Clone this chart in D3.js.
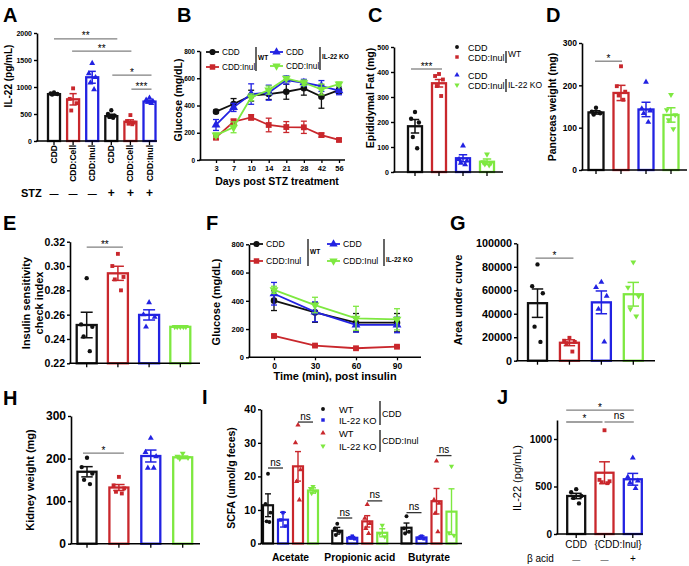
<!DOCTYPE html>
<html>
<head>
<meta charset="utf-8">
<script src="https://cdnjs.cloudflare.com/ajax/libs/d3/7.8.5/d3.min.js"></script>
<style>
  body { margin: 0; background: #fff; }
</style>
</head>
<body>
<script>
// colours of the four groups
const BLACK = "#111111", RED = "#c9272c", BLUE = "#2222e2", GREEN = "#7ee840", GRAY = "#808080";
const FONT = "'Liberation Sans', Arial, Helvetica, sans-serif";

// ---------- A : IL-22 ----------
const aCats = ["CDD", "CDD:Cell", "CDD:Inul", "CDD", "CDD:Cell", "CDD:Inul"];
const aStz = ["\u2014", "\u2014", "\u2014", "+", "+", "+"];
const aMeans = [868, 772, 1180, 460, 357, 730];
const aSems = [18, 105, 110, 35, 35, 25];
const aPoints = [[900, 880, 870, 860], [975, 780, 700, 565], [1440, 1250, 1180, 1080, 955], [570, 500, 470, 450, 430], [480, 370, 340, 320, 310], [800, 760, 740, 720, 700]];

// ---------- B : glucose after STZ ----------
const bDays = ["3", "7", "10", "14", "21", "28", "42", "56"];
const bWtCdd = [355, 411, 472, 484, 501, 526, 465, 513];
const bWtCddErr = [10, 40, 40, 40, 55, 50, 85, 25];
const bWtInul = [166, 281, 313, 257, 242, 240, 183, 147];
const bWtInulErr = [18, 20, 20, 50, 40, 45, 15, 10];
const bKoCdd = [257, 386, 484, 494, 587, 567, 543, 509];
const bKoCddErr = [40, 30, 75, 55, 30, 25, 40, 30];
const bKoInul = [183, 240, 460, 513, 599, 567, 518, 557];
const bKoInulErr = [15, 40, 25, 30, 10, 20, 40, 15];

// ---------- C : epididymal fat ----------
const cMeans = [183, 355, 55, 41];
const cSems = [27, 15, 14, 11];
const cPoints = [[240, 213, 198, 140, 95], [392, 384, 370, 344, 304], [105, 51, 45, 36, 30], [71, 40, 36, 32, 28]];

// ---------- D : pancreas weight ----------
const dMeans = [136, 182, 143, 130];
const dSems = [4, 18, 17, 17];
const dPoints = [[147, 138, 134, 131], [245, 198, 185, 176, 166], [208, 145, 140, 134, 113], [178, 142, 130, 118, 97]];

// ---------- E : insulin sensitivity ----------
const eMeans = [0.2515, 0.294, 0.2598, 0.2500];
const eSems = [0.0105, 0.0058, 0.0042, 0.0006];
const ePoints = [[0.290, 0.252, 0.250, 0.242, 0.230], [0.310, 0.300, 0.291, 0.289, 0.280], [0.270, 0.260, 0.258, 0.250], [0.250, 0.250, 0.250, 0.250, 0.250]];

// ---------- F : insulin tolerance ----------
const fTimes = [0, 30, 60, 90];
const fWtCdd = [401, 318, 245, 245];
const fWtCddErr = [70, 70, 65, 65];
const fWtInul = [151, 83, 64, 75];
const fWtInulErr = [8, 6, 5, 6];
const fKoCdd = [450, 322, 229, 229];
const fKoCddErr = [80, 70, 50, 55];
const fKoInul = [478, 370, 276, 269];
const fKoInulErr = [25, 55, 85, 75];

// ---------- G : area under curve ----------
const gMeans = [49000, 15300, 49700, 56600];
const gSems = [12100, 2500, 9700, 10100];
const gPoints = [[82000, 63500, 57500, 29000, 16000], [19500, 17000, 16000, 15000, 7800], [67000, 62500, 55000, 44000, 16000], [84000, 62500, 55000, 44000, 38000]];

// ---------- H : kidney weight ----------
const hMeans = [169, 132, 206, 203];
const hSems = [12, 7, 14, 3];
const hPoints = [[202, 180, 165, 150, 140], [157, 137, 130, 122, 118], [248, 215, 205, 178, 178], [212, 205, 202, 200]];

// ---------- I : SCFA ----------
const iGroups = ["Acetate", "Propionic acid", "Butyrate"];
const iAcetMeans = [11.4, 7.1, 23.0, 15.8];
const iAcetSems = [3.4, 2.2, 4.4, 0.8];
const iAcetPoints = [[20.8, 11.8, 9.2, 6.6, 6.4], [9.2, 7.0, 5.2], [35.3, 30.0, 22.0, 18.5, 13.0], [17.0, 16.4, 15.6, 15.0]];
const iPropMeans = [3.8, 1.7, 6.6, 3.2];
const iPropSems = [1.0, 0.4, 1.7, 1.2];
const iPropPoints = [[5.9, 4.5, 3.5, 2.5], [2.2, 1.7, 1.4], [11.6, 7.5, 6.0, 4.5, 3.0], [5.4, 3.0, 2.0]];
const iButMeans = [4.7, 1.8, 12.6, 9.5];
const iButSems = [1.4, 0.5, 3.8, 6.8];
const iButPoints = [[8.1, 4.5, 3.5, 3.0], [2.2, 1.6, 1.4], [24.6, 13.0, 12.0, 9.0, 3.5], [23.0, 3.2, 2.4]];

// ---------- J : IL-22 with beta acid ----------
const jCats = ["CDD", "CDD:Inul", "CDD:Inul"];
const jBeta = ["\u2014", "\u2014", "+"];
const jMeans = [400, 645, 576];
const jSems = [28, 115, 62];
const jPoints = [[472, 440, 400, 380, 322], [1092, 570, 555, 545, 535], [802, 600, 560, 540, 481]];

const JIT = [0, -1, 1, -0.55, 0.55];

const svg = d3.select("body").append("svg")
  .attr("width", 689).attr("height", 566)
  .attr("font-family", FONT);

function marker(g, shape, x, y, color, size) {
  const type = shape === "circle" ? d3.symbolCircle : shape === "square" ? d3.symbolSquare : d3.symbolTriangle;
  g.append("path")
    .attr("d", d3.symbol().type(type).size(size)())
    .attr("transform", `translate(${x},${y})` + (shape === "down" ? " rotate(180)" : ""))
    .attr("fill", color);
}

function letter(t, x, y) {
  svg.append("text").attr("x", x).attr("y", y)
    .attr("font-size", 20).attr("font-weight", "bold").text(t);
}

function yTitle(lines, x, y, size, bold) {
  const t = svg.append("text")
    .attr("transform", `translate(${x},${y}) rotate(-90)`)
    .attr("text-anchor", "middle").attr("font-size", size)
    .attr("font-weight", bold ? "bold" : "normal");
  lines.forEach((l, i) => t.append("tspan").attr("x", 0).attr("dy", i ? size * 1.15 : 0).text(l));
}

function yAxis(g, x, y, ticks, fmt, fs) {
  const ax = g.append("g").attr("transform", `translate(${x},0)`)
    .call(d3.axisLeft(y).tickValues(ticks).tickFormat(fmt).tickSize(3).tickSizeOuter(0).tickPadding(2));
  ax.attr("font-family", FONT);
  ax.select(".domain").attr("stroke-width", 1.6);
  ax.selectAll(".tick line").attr("stroke-width", 1.4);
  ax.selectAll("text").attr("font-size", fs).attr("font-weight", "bold");
  return ax;
}

function xBase(g, x0, x1, yb, ticks) {
  g.append("line").attr("x1", x0 - 0.8).attr("x2", x1).attr("y1", yb).attr("y2", yb)
    .attr("stroke", "#000").attr("stroke-width", 1.6);
  ticks.forEach(tx => g.append("line").attr("x1", tx).attr("x2", tx).attr("y1", yb).attr("y2", yb + 4)
    .attr("stroke", "#000").attr("stroke-width", 1.3));
}

function errBar(g, cx, yLo, yHi, capW, color, sw) {
  g.append("line").attr("x1", cx).attr("x2", cx).attr("y1", yLo).attr("y2", yHi)
    .attr("stroke", color).attr("stroke-width", sw);
  [yLo, yHi].forEach(yy => g.append("line")
    .attr("x1", cx - capW / 2).attr("x2", cx + capW / 2).attr("y1", yy).attr("y2", yy)
    .attr("stroke", color).attr("stroke-width", sw));
}

function sigLine(g, xa, xb, yy, label, color) {
  g.append("line").attr("x1", xa).attr("x2", xb).attr("y1", yy).attr("y2", yy)
    .attr("stroke", color || GRAY).attr("stroke-width", 1.3);
  g.append("text").attr("x", (xa + xb) / 2).attr("y", label === "ns" ? yy - 2.5 : yy + 0.5)
    .attr("text-anchor", "middle").attr("font-size", 10).text(label);
}

function barPanel(o) {
  const n = o.means.length;
  const idx = d3.range(n);
  const g = svg.append("g");
  const y = d3.scaleLinear().domain(o.domain).range([o.yBot, o.yTop]);
  const x = d3.scalePoint().domain(idx).range(o.centers);
  g.selectAll("rect.bar").data(idx).join("rect").attr("class", "bar")
    .attr("x", i => x(i) - o.barW / 2).attr("y", i => y(o.means[i]))
    .attr("width", o.barW).attr("height", i => o.yBot - y(o.means[i]))
    .attr("fill", "#fff").attr("stroke", i => o.colors[i]).attr("stroke-width", 2.3);
  idx.forEach(i => o.points[i].forEach((v, k) =>
    marker(g, o.shapes[i], x(i) + JIT[k % JIT.length] * o.barW * 0.28, y(v), o.colors[i], o.ms || 15)));
  idx.forEach(i => errBar(g, x(i), y(o.means[i] - o.sems[i]), y(o.means[i] + o.sems[i]),
    o.barW * 0.6, o.colors[i], 1.5));
  yAxis(g, o.x0, y, o.ticks, o.fmt, o.fs);
  xBase(g, o.x0, o.x1, o.yBot, idx.map(i => x(i)));
  (o.sig || []).forEach(s => sigLine(g, x(s[0]) + (s[4] ?? -2), x(s[1]) + (s[5] ?? 3), y(s[2]), s[3]));
  return { g, x, y };
}

function linePanel(o) {
  const g = svg.append("g");
  const y = d3.scaleLinear().domain(o.domain).range([o.yBot, o.yTop]);
  const x = o.x;
  yAxis(g, o.x0, y, o.ticks, d3.format("d"), o.fs);
  const xa = g.append("g").attr("transform", `translate(0,${o.yBot})`)
    .call(d3.axisBottom(x).tickValues(o.xVals).tickSize(3).tickSizeOuter(0).tickPadding(3));
  xa.attr("font-family", FONT);
  xa.select(".domain").remove();
  xa.selectAll(".tick line").attr("stroke-width", 1.3);
  xa.selectAll("text").attr("font-size", o.xfs).attr("font-weight", "bold");
  g.append("line").attr("x1", o.x0 - 0.8).attr("x2", o.x1).attr("y1", o.yBot).attr("y2", o.yBot)
    .attr("stroke", "#000").attr("stroke-width", 1.6);
  o.series.forEach(s => {
    s.vals.forEach((v, k) => errBar(g, x(o.xVals[k]), y(v - s.errs[k]), y(v + s.errs[k]), 6, s.color, 1.3));
    g.append("path").datum(s.vals)
      .attr("d", d3.line().x((d, k) => x(o.xVals[k])).y(d => y(d)))
      .attr("fill", "none").attr("stroke", s.color).attr("stroke-width", 1.8);
    s.vals.forEach((v, k) => marker(g, s.shape, x(o.xVals[k]), y(v), s.color, 34));
  });
}

function legendLine(x, y, color, shape, label, fs) {
  svg.append("line").attr("x1", x).attr("x2", x + 13).attr("y1", y).attr("y2", y)
    .attr("stroke", color).attr("stroke-width", 1.8);
  marker(svg, shape, x + 6.5, y, color, 30);
  svg.append("text").attr("x", x + 16).attr("y", y + 3).attr("font-size", fs).text(label);
}

function legendDot(x, y, color, shape, label, tx, fs) {
  marker(svg, shape, x, y, color, 12);
  svg.append("text").attr("x", tx).attr("y", y + 3.5).attr("font-size", fs).text(label);
}

function bracket(x, y1, y2, label, ty, bold, size) {
  svg.append("line").attr("x1", x).attr("x2", x).attr("y1", y1).attr("y2", y2)
    .attr("stroke", "#000").attr("stroke-width", 1.2);
  svg.append("text").attr("x", x + 2).attr("y", ty).attr("font-size", size)
    .attr("font-weight", bold ? "bold" : "normal").text(label);
}

const four = [BLACK, RED, BLUE, GREEN];
const fourShapes = ["circle", "square", "triangle", "down"];

// ===== A =====
letter("A", 3, 22);
const A = barPanel({
  x0: 37, x1: 157, yTop: 33, yBot: 141, domain: [0, 2000], ticks: [0, 500, 1000, 1500, 2000],
  fmt: d3.format("d"), fs: 7, centers: [54, 149.5], barW: 12,
  means: aMeans, sems: aSems, points: aPoints,
  colors: [BLACK, RED, BLUE, BLACK, RED, BLUE],
  shapes: ["circle", "square", "triangle", "circle", "square", "triangle"],
  sig: [[0, 3, 1890, "**", 0, 6], [1, 4, 1665, "**", -1, 1], [3, 5, 1220, "*", 1, 2], [4, 5, 960, "***", 1, 2]]
});
aCats.forEach((c, i) => {
  svg.append("text").attr("transform", `translate(${A.x(i) + 3},${145}) rotate(-90)`)
    .attr("text-anchor", "end").attr("font-size", 8.5).attr("font-weight", "bold").text(c);
});
svg.append("text").attr("x", 21).attr("y", 197).attr("font-size", 11).attr("font-weight", "bold").text("STZ");
aStz.forEach((s, i) => svg.append("text").attr("x", A.x(i)).attr("y", 197).attr("text-anchor", "middle")
  .attr("font-size", s === "+" ? 12 : 9).attr("font-weight", "bold").text(s));
yTitle(["IL-22 (pg/mL)"], 11.5, 76, 10, true);

// ===== B =====
letter("B", 177, 22);
linePanel({
  x0: 200, x1: 345, yTop: 51, yBot: 160, domain: [0, 800], ticks: [0, 200, 400, 600, 800], fs: 6.5, xfs: 7.5,
  x: d3.scalePoint().domain(bDays).range([216, 339]), xVals: bDays,
  series: [
    { vals: bWtCdd, errs: bWtCddErr, color: BLACK, shape: "circle" },
    { vals: bWtInul, errs: bWtInulErr, color: RED, shape: "square" },
    { vals: bKoCdd, errs: bKoCddErr, color: BLUE, shape: "triangle" },
    { vals: bKoInul, errs: bKoInulErr, color: GREEN, shape: "down" }
  ]
});
legendLine(206, 52, BLACK, "circle", "CDD", 8.2);
legendLine(206, 67, RED, "square", "CDD:Inul", 8.2);
legendLine(270, 52, BLUE, "triangle", "CDD", 8.2);
legendLine(270, 66, GREEN, "down", "CDD:Inul", 8.2);
bracket(256, 47, 71, "WT", 60, true, 6.5);
bracket(320, 47, 70, "IL-22 KO", 59, true, 6.5);
yTitle(["Glucose (mg/dL)"], 182, 100, 10.5, true);
svg.append("text").attr("x", 277).attr("y", 185).attr("text-anchor", "middle")
  .attr("font-size", 10.5).attr("font-weight", "bold").text("Days post STZ treatment");

// ===== C =====
letter("C", 368, 22);
barPanel({
  x0: 394, x1: 503, yTop: 47, yBot: 172, domain: [0, 500], ticks: [0, 100, 200, 300, 400, 500],
  fmt: d3.format("d"), fs: 7, centers: [415, 487], barW: 14,
  means: cMeans, sems: cSems, points: cPoints, colors: four, shapes: fourShapes,
  sig: [[0, 1, 412, "***", -4, 3]]
});
legendDot(457, 47, BLACK, "circle", "CDD", 468, 9);
legendDot(457, 57, RED, "square", "CDD:Inul", 468, 9);
legendDot(457, 75, BLUE, "triangle", "CDD", 468, 9);
legendDot(457, 85, GREEN, "down", "CDD:Inul", 468, 9);
bracket(506, 51, 63, "WT", 57, false, 8.5);
bracket(506, 79, 92, "IL-22 KO", 88, false, 8.5);
yTitle(["Epididymal Fat (mg)"], 374, 98, 10.5, true);

// ===== D =====
letter("D", 546, 22);
barPanel({
  x0: 582, x1: 687, yTop: 43, yBot: 170, domain: [0, 300], ticks: [0, 100, 200, 300],
  fmt: d3.format("d"), fs: 8.5, centers: [596, 671], barW: 15,
  means: dMeans, sems: dSems, points: dPoints, colors: four, shapes: fourShapes,
  sig: [[0, 1, 257, "*", -1, 1]]
});
yTitle(["Pancreas weight (mg)"], 556, 107, 10.5, true);

// ===== E =====
letter("E", 3, 230);
barPanel({
  x0: 70, x1: 200, yTop: 241.7, yBot: 363.3, domain: [0.22, 0.32],
  ticks: [0.22, 0.24, 0.26, 0.28, 0.30, 0.32], fmt: d3.format(".2f"), fs: 10.5,
  centers: [86.7, 180.3], barW: 20,
  means: eMeans, sems: eSems, points: ePoints, colors: four, shapes: fourShapes,
  sig: [[0, 1, 0.3155, "**", 0, 5]]
});
yTitle(["Insulin sensitivity", "check index"], 30, 303, 11, true);

// ===== F =====
letter("F", 206, 230);
linePanel({
  x0: 249, x1: 421, yTop: 244.3, yBot: 357.3, domain: [0, 800], ticks: [0, 200, 400, 600, 800], fs: 7.5, xfs: 8.5,
  x: d3.scaleLinear().domain([0, 90]).range([274, 397]), xVals: fTimes,
  series: [
    { vals: fWtCdd, errs: fWtCddErr, color: BLACK, shape: "circle" },
    { vals: fWtInul, errs: fWtInulErr, color: RED, shape: "square" },
    { vals: fKoCdd, errs: fKoCddErr, color: BLUE, shape: "triangle" },
    { vals: fKoInul, errs: fKoInulErr, color: GREEN, shape: "down" }
  ]
});
legendLine(250, 244, BLACK, "circle", "CDD", 8.7);
legendLine(250, 261, RED, "square", "CDD:Inul", 8.7);
legendLine(327, 244, BLUE, "triangle", "CDD", 8.7);
legendLine(327, 261, GREEN, "down", "CDD:Inul", 8.7);
bracket(308, 239, 266, "WT", 254, true, 6.5);
bracket(384, 239, 266, "IL-22 KO", 262, true, 6.5);
yTitle(["Glucose (mg/dL)"], 220, 302, 11, true);
svg.append("text").attr("x", 335).attr("y", 380).attr("text-anchor", "middle")
  .attr("font-size", 11).attr("font-weight", "bold").text("Time (min), post insulin");

// ===== G =====
letter("G", 450, 230);
barPanel({
  x0: 517, x1: 655, yTop: 243.3, yBot: 360.7, domain: [0, 100000],
  ticks: [0, 20000, 40000, 60000, 80000, 100000], fmt: d3.format("d"), fs: 10.8,
  centers: [537.5, 633.3], barW: 19,
  means: gMeans, sems: gSems, points: gPoints, colors: four, shapes: fourShapes,
  sig: [[0, 1, 87300, "*", -2, 4]]
});
yTitle(["Area under curve"], 462, 300, 11, true);

// ===== H =====
letter("H", 3, 405);
barPanel({
  x0: 71, x1: 200, yTop: 416, yBot: 543.7, domain: [0, 300], ticks: [0, 100, 200, 300],
  fmt: d3.format("d"), fs: 12, centers: [87, 182.7], barW: 19,
  means: hMeans, sems: hSems, points: hPoints, colors: four, shapes: fourShapes,
  sig: [[0, 1, 213, "*", -4, 5]]
});
yTitle(["Kidney weight (mg)"], 34, 480, 11, true);

// ===== I =====
letter("I", 202, 404);
{
  const g = svg.append("g");
  const y = d3.scaleLinear().domain([0, 40]).range([543.5, 409.3]);
  const xg = d3.scalePoint().domain(iGroups).range([290.5, 429]);
  const xs = d3.scalePoint().domain(d3.range(4)).range([-22.5, 22.5]);
  const iColors = [BLACK, BLUE, RED, GREEN];
  const iShapes = ["circle", "square", "triangle", "down"];
  const means = [iAcetMeans, iPropMeans, iButMeans];
  const sems = [iAcetSems, iPropSems, iButSems];
  const pts = [iAcetPoints, iPropPoints, iButPoints];
  const bw = 10;
  iGroups.forEach((grp, gi) => {
    d3.range(4).forEach(s => {
      const cx = xg(grp) + xs(s), m = means[gi][s];
      g.append("rect").attr("x", cx - bw / 2).attr("y", y(m)).attr("width", bw).attr("height", y(0) - y(m))
        .attr("fill", "#fff").attr("stroke", iColors[s]).attr("stroke-width", 2.2);
      pts[gi][s].forEach((v, k) => marker(g, iShapes[s], cx + JIT[k % JIT.length] * 2.5, y(v), iColors[s], 12));
      errBar(g, cx, y(m - sems[gi][s]), y(m + sems[gi][s]), 6, iColors[s], 1.4);
    });
  });
  yAxis(g, 261, y, [0, 10, 20, 30, 40], d3.format("d"), 10.5);
  xBase(g, 261, 462, y(0), []);
  iGroups.forEach(grp => g.append("text").attr("x", xg(grp)).attr("y", 560.7).attr("text-anchor", "middle")
    .attr("font-size", 10.3).attr("font-weight", "bold").text(grp));
  const nsPairs = [[0, 0, 22.5], [0, 2, 36.2], [1, 0, 7.6], [1, 2, 12.7], [2, 0, 9.2], [2, 2, 26.2]];
  nsPairs.forEach(([gi, s, v]) => sigLine(g, xg(iGroups[gi]) + xs(s), xg(iGroups[gi]) + xs(s + 1), y(v), "ns", "#333"));
}
legendDot(323, 409, BLACK, "circle", "WT", 339, 9.4);
legendDot(323, 420, BLUE, "square", "IL-22 KO", 339, 9.4);
legendDot(323, 433, RED, "triangle", "WT", 339, 9.4);
legendDot(323, 446, GREEN, "down", "IL-22 KO", 339, 9.4);
bracket(380, 401, 425, "CDD", 417, false, 9);
bracket(380, 430, 452, "CDD:Inul", 444, false, 9);
yTitle(["SCFA (umol/g feces)"], 235, 478, 10.5, true);

// ===== J =====
letter("J", 497, 404);
const J = barPanel({
  x0: 557, x1: 643, yTop: 420, yBot: 534, domain: [0, 1200], ticks: [0, 500, 1000],
  fmt: d3.format("d"), fs: 10, centers: [576.2, 632.8], barW: 18,
  means: jMeans, sems: jSems, points: jPoints, colors: [BLACK, RED, BLUE],
  shapes: ["circle", "square", "triangle"],
  sig: [[0, 2, 1305, "*", -10, 1], [0, 1, 1179, "*", -10, -2], [1, 2, 1179, "ns", 0, 1]]
});
svg.append("text").attr("x", J.x(0)).attr("y", 548).attr("text-anchor", "middle").attr("font-size", 10).text(jCats[0]);
svg.append("text").attr("x", 618).attr("y", 548).attr("text-anchor", "middle").attr("font-size", 10)
  .text("{" + jCats[1] + "}");
svg.append("text").attr("x", 527).attr("y", 562).attr("font-size", 10).text("\u03b2 acid");
jBeta.forEach((s, i) => svg.append("text").attr("x", J.x(i)).attr("y", 562).attr("text-anchor", "middle")
  .attr("font-size", s === "+" ? 10 : 8).text(s));
yTitle(["IL-22 (pg/mL)"], 521, 478, 11, false);
</script>
</body>
</html>
